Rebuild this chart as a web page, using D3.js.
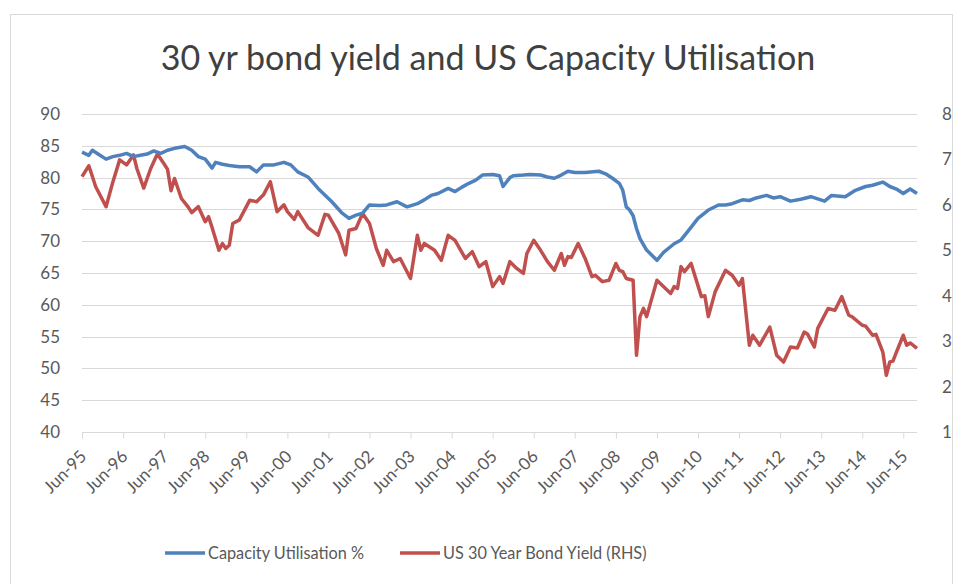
<!DOCTYPE html>
<html>
<head>
<meta charset="utf-8">
<script src="https://cdn.jsdelivr.net/npm/d3@7"></script>
<style>
  body { margin: 0; background: #fff; }
  text { font-family: Lato, "Open Sans", sans-serif; fill: #595959; }
</style>
</head>
<body>
<div id="chart"></div>
<script>
// monthly readings (irregular spacing, only where the line turns)
var capDates = ["1995-06","1995-08","1995-09","1995-11","1996-01","1996-03","1996-05","1996-07","1996-09","1996-11",
  "1997-01","1997-03","1997-05","1997-07","1997-09","1997-12","1998-02","1998-04","1998-06","1998-08","1998-09","1998-11",
  "1999-01","1999-04","1999-07","1999-09","1999-11","2000-02","2000-05","2000-07","2000-09","2000-12","2001-03","2001-07",
  "2001-10","2001-12","2002-02","2002-04","2002-06","2002-09","2002-11","2003-02","2003-05","2003-08","2003-10","2003-12",
  "2004-02","2004-05","2004-07","2004-09","2004-11","2005-01","2005-03","2005-06","2005-08","2005-09","2005-11","2005-12",
  "2006-03","2006-05","2006-08","2006-10","2006-12","2007-02","2007-04","2007-06","2007-09","2008-01","2008-03","2008-05",
  "2008-07","2008-08","2008-09","2008-10","2008-11","2008-12","2009-01","2009-03","2009-06","2009-08","2009-11","2010-01",
  "2010-03","2010-06","2010-09","2010-12","2011-02","2011-04","2011-07","2011-09","2011-11","2012-02","2012-04","2012-06",
  "2012-09","2012-12","2013-03","2013-07","2013-09","2014-01","2014-04","2014-07","2014-09","2014-12","2015-02","2015-04",
  "2015-06","2015-08","2015-10"];
var capValues = [84.0,83.5,84.3,83.6,82.9,83.3,83.5,83.8,83.3,83.5,
  83.7,84.2,83.8,84.3,84.6,84.9,84.3,83.3,82.9,81.5,82.4,82.1,
  81.9,81.7,81.7,80.9,82.0,82.0,82.4,82.0,80.9,80.1,78.3,76.2,
  74.4,73.6,74.1,74.4,75.7,75.6,75.7,76.2,75.4,75.9,76.5,77.2,
  77.5,78.3,77.8,78.5,79.1,79.6,80.4,80.5,80.3,78.6,80.0,80.3,
  80.4,80.5,80.4,80.1,79.9,80.4,81.0,80.8,80.8,81.0,80.6,79.9,
  79.1,78.0,75.4,74.9,74.0,72.0,70.4,68.6,67.0,68.3,69.6,70.2,
  71.5,73.6,74.9,75.7,75.7,75.9,76.5,76.4,76.8,77.2,76.8,77.0,
  76.3,76.6,77.0,76.3,77.2,77.0,78.0,78.6,78.8,79.3,78.6,78.2,
  77.5,78.2,77.5];

var bondDates = ["1995-06","1995-08","1995-10","1996-01","1996-03","1996-05","1996-07","1996-09","1996-10","1996-12",
  "1997-02","1997-04","1997-06","1997-07","1997-08","1997-09","1997-11","1998-01","1998-02","1998-04","1998-06","1998-07",
  "1998-08","1998-10","1998-11","1998-12","1999-01","1999-02","1999-04","1999-07","1999-09","1999-11","2000-01","2000-03",
  "2000-05","2000-06","2000-08","2000-09","2000-12","2001-03","2001-05","2001-06","2001-09","2001-11","2001-12","2002-02",
  "2002-04","2002-06","2002-08","2002-10","2002-11","2003-01","2003-03","2003-06","2003-08","2003-09","2003-10","2004-01",
  "2004-03","2004-05","2004-07","2004-10","2004-12","2005-02","2005-04","2005-06","2005-08","2005-09","2005-11","2006-01",
  "2006-03","2006-04","2006-06","2006-08","2006-10","2006-12","2007-02","2007-03","2007-04","2007-05","2007-07","2007-09",
  "2007-11","2007-12","2008-02","2008-04","2008-06","2008-07","2008-08","2008-09","2008-11","2008-12","2009-01","2009-02",
  "2009-03","2009-06","2009-07","2009-10","2009-11","2009-12","2010-01","2010-02","2010-04","2010-07","2010-08","2010-09",
  "2010-11","2011-02","2011-04","2011-06","2011-07","2011-09","2011-10","2011-12","2012-03","2012-05","2012-07","2012-09",
  "2012-11","2013-01","2013-02","2013-04","2013-05","2013-08","2013-10","2013-12","2014-02","2014-03","2014-06","2014-07",
  "2014-09","2014-10","2014-12","2015-01","2015-02","2015-03","2015-04","2015-06","2015-07","2015-08","2015-10"];
var bondValues = [6.62,6.86,6.40,5.96,6.50,6.99,6.88,7.10,6.80,6.37,
  6.80,7.12,6.90,6.78,6.31,6.58,6.14,5.95,5.83,5.96,5.63,5.74,
  5.50,5.00,5.15,5.04,5.11,5.59,5.67,6.10,6.07,6.22,6.51,5.85,
  6.00,5.85,5.68,5.85,5.50,5.33,5.79,5.77,5.37,4.90,5.44,5.48,
  5.81,5.59,5.04,4.67,5.00,4.75,4.82,4.38,5.33,5.00,5.15,5.00,
  4.78,5.33,5.22,4.82,4.97,4.64,4.75,4.20,4.42,4.27,4.75,4.60,
  4.49,4.93,5.22,5.00,4.75,4.56,4.93,4.67,4.86,4.84,5.15,4.82,
  4.42,4.45,4.31,4.34,4.71,4.56,4.53,4.38,4.34,2.69,3.54,3.72,
  3.54,4.34,4.27,4.05,4.20,4.16,4.64,4.53,4.71,3.98,4.00,3.54,
  4.09,4.56,4.45,4.23,4.38,2.91,3.13,2.91,3.31,2.69,2.54,2.87,
  2.85,3.20,3.15,2.87,3.28,3.72,3.68,3.98,3.57,3.54,3.35,3.33,
  3.13,3.15,2.76,2.25,2.54,2.56,2.76,3.13,2.91,2.96,2.84];

var leftTicks = [40,45,50,55,60,65,70,75,80,85,90];
var rightTicks = [1,2,3,4,5,6,7,8];
var tickLabels = ["Jun-95","Jun-96","Jun-97","Jun-98","Jun-99","Jun-00","Jun-01","Jun-02","Jun-03","Jun-04","Jun-05",
  "Jun-06","Jun-07","Jun-08","Jun-09","Jun-10","Jun-11","Jun-12","Jun-13","Jun-14","Jun-15"];

var W = 957, H = 584;
var plot = { left: 82, right: 917, top: 114, bottom: 432 };
var parse = d3.timeParse("%Y-%m");

var capData = capDates.map(function (d, i) { return { date: parse(d), value: capValues[i] }; });
var bondData = bondDates.map(function (d, i) { return { date: parse(d), value: bondValues[i] }; });
var tickDates = tickLabels.map(function (d) { return d3.timeParse("%b-%y")(d); });

var svg = d3.select("#chart").append("svg")
  .attr("width", W)
  .attr("height", H);

svg.append("rect")
  .attr("x", 10.5).attr("y", 14.5)
  .attr("width", 942).attr("height", 600)
  .attr("fill", "#fff")
  .attr("stroke", "#d9d9d9");

var x = d3.scaleTime()
  .domain([parse("1995-06"), parse("2015-10")])
  .range([plot.left, plot.right]);
var yLeft = d3.scaleLinear().domain([40, 90]).range([plot.bottom, plot.top]);
var yRight = d3.scaleLinear().domain([1, 8]).range([plot.bottom, plot.top]);

// gridlines
svg.append("g")
  .selectAll("line")
  .data(leftTicks.slice(1))
  .enter()
  .append("line")
  .attr("x1", plot.left).attr("x2", plot.right)
  .attr("y1", function (d) { return Math.round(yLeft(d)) + 0.5; })
  .attr("y2", function (d) { return Math.round(yLeft(d)) + 0.5; })
  .attr("stroke", "#d9d9d9")
  .attr("stroke-width", 1);

// left axis
var gl = svg.append("g")
  .attr("transform", "translate(" + plot.left + ",0)")
  .call(d3.axisLeft(yLeft).tickValues(leftTicks).tickSize(0).tickPadding(22));
gl.select(".domain").remove();
gl.selectAll("text").style("font-size", "17px").style("fill", "#595959");

// right axis
var gr = svg.append("g")
  .attr("transform", "translate(" + plot.right + ",0)")
  .call(d3.axisRight(yRight).tickValues(rightTicks).tickFormat(d3.format("d"))
    .tickSize(0).tickPadding(25));
gr.select(".domain").remove();
gr.selectAll("text").style("font-size", "17px").style("fill", "#595959");

// bottom axis
var gb = svg.append("g")
  .attr("transform", "translate(0," + (Math.round(plot.bottom) + 0.5) + ")")
  .call(d3.axisBottom(x).tickValues(tickDates).tickSize(6)
    .tickFormat(function (d, i) { return tickLabels[i]; }));
gb.select(".domain").attr("d", "M" + plot.left + ",0H" + plot.right).attr("stroke", "#d9d9d9");
gb.selectAll(".tick line").attr("stroke", "#d9d9d9");
gb.selectAll(".tick text")
  .style("font-size", "17px")
  .style("fill", "#595959")
  .attr("text-anchor", "end")
  .attr("y", 0)
  .attr("dy", 0)
  .attr("transform", "translate(5,25) rotate(-45)");

// lines
var capLine = d3.line()
  .x(function (d) { return x(d.date); })
  .y(function (d) { return yLeft(d.value); });
var bondLine = d3.line()
  .x(function (d) { return x(d.date); })
  .y(function (d) { return yRight(d.value); });

svg.append("path")
  .datum(bondData)
  .attr("d", bondLine)
  .attr("fill", "none")
  .attr("stroke", "#c0504d")
  .attr("stroke-width", 3.5)
  .attr("stroke-linejoin", "round");

svg.append("path")
  .datum(capData)
  .attr("d", capLine)
  .attr("fill", "none")
  .attr("stroke", "#4f81bd")
  .attr("stroke-width", 3.5)
  .attr("stroke-linejoin", "round");

// title
svg.append("text")
  .attr("x", 488)
  .attr("y", 70)
  .attr("text-anchor", "middle")
  .style("font-size", "34px")
  .style("fill", "#404040")
  .text("30 yr bond yield and US Capacity Utilisation");

// legend
var legend = [
  { name: "Capacity Utilisation %", color: "#4f81bd", x: 165 },
  { name: "US 30 Year Bond Yield (RHS)", color: "#c0504d", x: 400 }
];
var lg = svg.selectAll(".legend")
  .data(legend)
  .enter()
  .append("g")
  .attr("class", "legend")
  .attr("transform", function (d) { return "translate(" + d.x + ",553)"; });
lg.append("line")
  .attr("x1", 0).attr("x2", 40)
  .attr("stroke", function (d) { return d.color; })
  .attr("stroke-width", 3.5);
lg.append("text")
  .attr("x", 43)
  .attr("y", 6)
  .style("font-size", "16.3px")
  .text(function (d) { return d.name; });
</script>
</body>
</html>
